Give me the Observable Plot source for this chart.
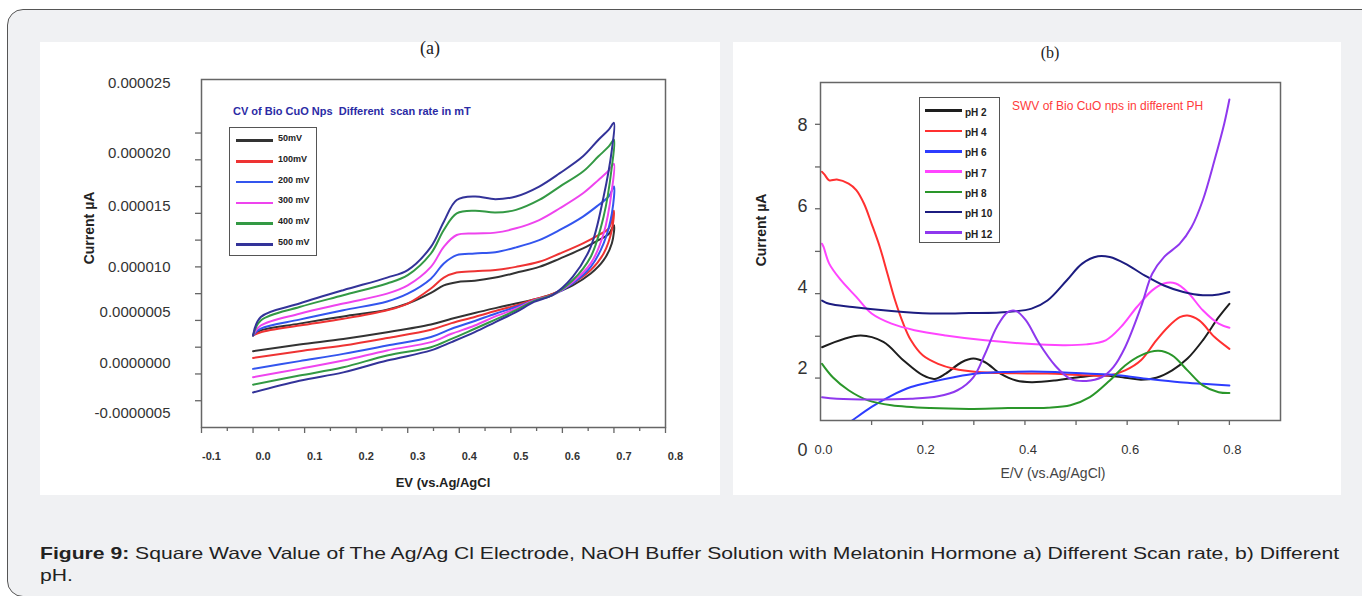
<!DOCTYPE html>
<html><head><meta charset="utf-8">
<script src="https://cdn.jsdelivr.net/npm/d3@7"></script>
<script src="https://cdn.jsdelivr.net/npm/@observablehq/plot@0.6"></script>
<style>
html,body{margin:0;padding:0}
body{width:1362px;height:596px;overflow:hidden;background:#fff;position:relative;font-family:"Liberation Sans",Arial,sans-serif}
#outer{position:absolute;left:7px;top:9px;width:1400px;height:588px;box-sizing:border-box;border:1.5px solid #555;border-radius:16px;background:#f0f1f3}
.panel{position:absolute;background:#fff}
#pa{left:40px;top:42px;width:680px;height:453px}
#pb{left:733px;top:42px;width:608px;height:453px}
.panel svg{display:block}
.t{position:absolute;white-space:pre;line-height:1}
.c{transform:translate(-50%,-50%)}
.rot{transform:translate(-50%,-50%) rotate(-90deg)}
.lbox{position:absolute;box-sizing:border-box;border:1.5px solid #555;background:#fff}
.lline{position:absolute;height:2.5px}
#cap{position:absolute;left:40px;top:542px;font-size:16.5px;line-height:22px;color:#222;white-space:nowrap;transform-origin:0 0;transform:scaleX(1.28)}
</style></head>
<body>
<div id="outer"></div>
<div id="pa" class="panel"></div>
<div id="pb" class="panel"></div>
<div id="overlay"></div>
<div id="cap"><b>Figure 9:</b> Square Wave Value of The Ag/Ag Cl Electrode, NaOH Buffer Solution with Melatonin Hormone a) Different Scan rate, b) Different<br>pH.</div>
<script>
// ---------- Panel (a): cyclic voltammograms at different scan rates ----------
const ratesA = ["50mV", "100mV", "200 mV", "300 mV", "400 mV", "500 mV"];
const xUpA = [0, 0.015, 0.09, 0.175, 0.26, 0.30, 0.345, 0.37, 0.395, 0.43, 0.47, 0.51, 0.555, 0.595, 0.64, 0.67, 0.69, 0.70];
const up50  = [3.44, 3.63, 3.88, 4.15, 4.40, 4.63, 5.03, 5.31, 5.43, 5.48, 5.60, 5.78, 6.00, 6.31, 6.69, 7.00, 7.23, 7.56];
const up100 = [3.44, 3.56, 3.81, 4.06, 4.38, 4.63, 5.19, 5.60, 5.79, 5.84, 5.88, 6.00, 6.19, 6.50, 6.88, 7.19, 7.44, 8.10];
const up200 = [3.44, 3.69, 4.03, 4.38, 4.71, 5.00, 5.56, 6.13, 6.44, 6.50, 6.55, 6.73, 7.00, 7.38, 7.88, 8.31, 8.63, 9.00];
const up300 = [3.44, 3.81, 4.25, 4.63, 5.00, 5.31, 6.00, 6.75, 7.19, 7.25, 7.28, 7.44, 7.75, 8.19, 8.75, 9.25, 9.60, 9.85];
const up400 = [3.44, 4.00, 4.50, 4.94, 5.38, 5.69, 6.50, 7.38, 8.00, 8.10, 8.03, 8.13, 8.50, 9.00, 9.56, 10.13, 10.50, 10.75];
const up500 = [3.44, 4.13, 4.63, 5.13, 5.60, 5.88, 6.75, 7.69, 8.50, 8.63, 8.53, 8.63, 9.00, 9.50, 10.13, 10.75, 11.13, 11.38];
const xDownA = [0.696, 0.68, 0.655, 0.62, 0.58, 0.545, 0.51, 0.47, 0.43, 0.385, 0.345, 0.26, 0.175, 0.09, 0.0];
const down50  = [6.88, 6.25, 5.75, 5.31, 4.98, 4.78, 4.63, 4.46, 4.28, 4.06, 3.85, 3.56, 3.31, 3.10, 2.85];
const down100 = [7.38, 6.50, 5.88, 5.38, 4.98, 4.78, 4.56, 4.35, 4.13, 3.90, 3.65, 3.34, 3.06, 2.85, 2.60];
const down200 = [8.00, 6.88, 6.00, 5.38, 4.94, 4.75, 4.50, 4.25, 3.98, 3.69, 3.38, 3.06, 2.75, 2.48, 2.19];
const down300 = [8.88, 7.25, 6.13, 5.44, 4.94, 4.75, 4.44, 4.15, 3.81, 3.50, 3.19, 2.88, 2.50, 2.19, 1.88];
const down400 = [9.75, 7.88, 6.38, 5.50, 4.94, 4.73, 4.38, 4.03, 3.69, 3.31, 3.00, 2.69, 2.25, 1.94, 1.60];
const down500 = [10.38, 8.63, 6.75, 5.63, 4.94, 4.69, 4.31, 3.94, 3.56, 3.19, 2.88, 2.50, 2.06, 1.75, 1.31];
const yTickValuesA = [12.86, 10.26, 8.28, 5.99, 4.31, 2.41, 0.52];
const yTickLabelsA = ["0.000025", "0.000020", "0.000015", "0.000010", "0.0000005", "0.0000000", "-0.0000005"];
const yTickMarksA = [1, 2, 3, 4, 5, 6, 7, 8, 9, 10, 11];
const xTickValuesA = [-0.1, 0, 0.1, 0.2, 0.3, 0.4, 0.5, 0.6, 0.7, 0.8];
const xTickLabelsA = ["-0.1", "0.0", "0.1", "0.2", "0.3", "0.4", "0.5", "0.6", "0.7", "0.8"];
const xMinorA = [-0.05, 0.05, 0.15, 0.25, 0.35, 0.45, 0.55, 0.65, 0.75];
const colorsA = ["#333333", "#ee3333", "#3355ee", "#ee44ee", "#339944", "#333399"];

// ---------- Panel (b): SWV at different pH ----------
const phNames = ["pH 2", "pH 4", "pH 6", "pH 7", "pH 8", "pH 10", "pH 12"];
const ph2X = [0.003, 0.078, 0.123, 0.162, 0.2, 0.223, 0.245, 0.276, 0.299, 0.322, 0.352, 0.383, 0.413, 0.459, 0.505, 0.55, 0.596, 0.627, 0.657, 0.688, 0.718, 0.748, 0.779, 0.8];
const ph2Y = [2.53, 2.82, 2.66, 2.21, 1.84, 1.75, 1.88, 2.16, 2.25, 2.16, 1.88, 1.71, 1.67, 1.71, 1.79, 1.84, 1.78, 1.73, 1.78, 1.96, 2.25, 2.70, 3.27, 3.60];
const ph4X = [0.003, 0.008, 0.017, 0.032, 0.055, 0.07, 0.085, 0.1, 0.116, 0.131, 0.146, 0.162, 0.177, 0.2, 0.23, 0.261, 0.306, 0.367, 0.444, 0.52, 0.566, 0.596, 0.627, 0.657, 0.68, 0.703, 0.718, 0.741, 0.771, 0.8];
const ph4Y = [6.85, 6.78, 6.64, 6.66, 6.56, 6.40, 6.07, 5.57, 5.00, 4.34, 3.68, 3.11, 2.70, 2.33, 2.12, 2.00, 1.92, 1.89, 1.88, 1.84, 1.84, 1.96, 2.21, 2.70, 3.03, 3.27, 3.31, 3.19, 2.78, 2.49];
const ph6X = [0.05, 0.0625, 0.1, 0.139, 0.177, 0.215, 0.261, 0.306, 0.367, 0.413, 0.459, 0.52, 0.581, 0.642, 0.703, 0.748, 0.8];
const ph6Y = [0.62, 0.73, 1.06, 1.34, 1.55, 1.67, 1.79, 1.88, 1.92, 1.93, 1.92, 1.88, 1.84, 1.75, 1.67, 1.63, 1.59];
const ph7X = [0.003, 0.006, 0.017, 0.04, 0.07, 0.1, 0.139, 0.184, 0.245, 0.322, 0.398, 0.474, 0.52, 0.558, 0.588, 0.619, 0.649, 0.672, 0.695, 0.718, 0.748, 0.779, 0.8];
const ph7Y = [5.08, 5.00, 4.59, 4.18, 3.77, 3.36, 3.11, 2.95, 2.82, 2.70, 2.62, 2.58, 2.60, 2.70, 3.03, 3.52, 3.93, 4.10, 4.10, 3.89, 3.44, 3.11, 3.01];
const ph8X = [0.003, 0.024, 0.055, 0.093, 0.139, 0.215, 0.291, 0.367, 0.444, 0.489, 0.527, 0.566, 0.596, 0.627, 0.661, 0.688, 0.718, 0.748, 0.779, 0.8];
const ph8Y = [2.12, 1.79, 1.47, 1.22, 1.10, 1.03, 1.01, 1.03, 1.04, 1.10, 1.30, 1.71, 2.08, 2.33, 2.44, 2.33, 1.96, 1.59, 1.42, 1.40];
const ph10X = [0.003, 0.017, 0.0625, 0.139, 0.215, 0.291, 0.367, 0.413, 0.444, 0.482, 0.512, 0.543, 0.566, 0.596, 0.634, 0.672, 0.71, 0.748, 0.779, 0.8];
const ph10Y = [3.68, 3.60, 3.52, 3.42, 3.36, 3.37, 3.40, 3.48, 3.68, 4.18, 4.59, 4.77, 4.75, 4.59, 4.30, 4.05, 3.89, 3.81, 3.83, 3.89];
const ph12X = [0.003, 0.032, 0.1, 0.177, 0.23, 0.268, 0.299, 0.322, 0.345, 0.367, 0.383, 0.402, 0.428, 0.459, 0.489, 0.52, 0.55, 0.573, 0.596, 0.627, 0.649, 0.672, 0.703, 0.726, 0.748, 0.771, 0.79, 0.8];
const ph12Y = [1.30, 1.26, 1.24, 1.26, 1.32, 1.47, 1.79, 2.37, 3.03, 3.40, 3.42, 3.19, 2.62, 2.08, 1.75, 1.70, 1.79, 2.04, 2.53, 3.52, 4.34, 4.75, 5.08, 5.49, 6.15, 7.14, 8.04, 8.63];
const yTickValuesB = [0, 2, 4, 6, 8];
const yTickMarksB = [1.77, 2.80, 3.85, 4.89, 5.94, 6.97, 8.02];
const xTickValuesB = [0, 0.2, 0.4, 0.6, 0.8];
const xTickLabelsB = ["0.0", "0.2", "0.4", "0.6", "0.8"];
const xTickMarksB = [0.1, 0.2, 0.3, 0.4, 0.5, 0.6, 0.7, 0.8];
const colorsB = ["#1e1e1e", "#ff3030", "#2d3cff", "#ff45ff", "#2a962a", "#1c1c80", "#8f38ee"];

const FONT = '"Liberation Sans", Arial, sans-serif';

// build tables
const upA = [up50, up100, up200, up300, up400, up500];
const downA = [down50, down100, down200, down300, down400, down500];
const cvData = ratesA.flatMap((r, k) => [
  ...xUpA.map((x, i) => ({rate: r, x, y: upA[k][i]})),
  ...xDownA.map((x, i) => ({rate: r, x, y: downA[k][i]}))
]);
const xsB = [ph2X, ph4X, ph6X, ph7X, ph8X, ph10X, ph12X];
const ysB = [ph2Y, ph4Y, ph6Y, ph7Y, ph8Y, ph10Y, ph12Y];
const swvData = phNames.flatMap((p, k) => xsB[k].map((x, i) => ({ph: p, x, y: ysB[k][i]})));

const plotA = Plot.plot({
  width: 680, height: 453,
  marginLeft: 161, marginRight: 55, marginTop: 37, marginBottom: 68,
  style: {background: "transparent", fontFamily: FONT, color: "#333"},
  x: {domain: [-0.1, 0.8]},
  y: {domain: [0, 13]},
  color: {domain: ratesA, range: colorsA},
  marks: [
    Plot.axisY({ticks: yTickMarksA, tickSize: 6, tickFormat: () => "", stroke: "#666", strokeWidth: 1.3, label: null}),
    Plot.axisY({ticks: yTickValuesA, tickSize: 0, tickPadding: 31, tickFormat: (d, i) => yTickLabelsA[i], fontSize: 15, fill: "#333", label: null}),
    Plot.axisX({ticks: xMinorA, tickSize: 4, tickFormat: () => "", stroke: "#666", strokeWidth: 1.3, label: null}),
    Plot.axisX({ticks: xTickValuesA, tickSize: 6, tickFormat: () => "", stroke: "#666", strokeWidth: 1.3, label: null}),
    Plot.axisX({ticks: xTickValuesA, tickSize: 0, tickPadding: 25, dx: 10, tickFormat: (d, i) => xTickLabelsA[i], fontSize: 11, fontWeight: "bold", fill: "#333", label: null}),
    Plot.line(cvData, {x: "x", y: "y", z: "rate", stroke: "rate", strokeWidth: 2, curve: "catmull-rom"}),
    Plot.frame({stroke: "#666", strokeWidth: 1.5})
  ]
});
document.getElementById("pa").appendChild(plotA);

const plotB = Plot.plot({
  width: 608, height: 453,
  marginLeft: 87, marginRight: 61, marginTop: 40, marginBottom: 75,
  style: {background: "transparent", fontFamily: FONT, color: "#333"},
  x: {domain: [0, 0.9]},
  y: {domain: [0.725, 9.05]},
  color: {domain: phNames, range: colorsB},
  marks: [
    Plot.axisY({ticks: yTickMarksB, tickSize: 5, tickFormat: () => "", stroke: "#666", strokeWidth: 1.3, label: null}),
    Plot.axisY({ticks: yTickValuesB, tickSize: 0, tickPadding: 13, tickFormat: d => String(d), fontSize: 18, fill: "#333", label: null}),
    Plot.axisX({ticks: xTickMarksB, tickSize: 5, tickFormat: () => "", stroke: "#666", strokeWidth: 1.3, label: null}),
    Plot.axisX({ticks: xTickValuesB, tickSize: 0, tickPadding: 24, dx: 3, tickFormat: (d, i) => xTickLabelsB[i], fontSize: 13, fill: "#333", label: null}),
    Plot.line(swvData, {x: "x", y: "y", z: "ph", stroke: "ph", strokeWidth: 2, curve: "catmull-rom", clip: true}),
    Plot.frame({stroke: "#666", strokeWidth: 1.5})
  ]
});
document.getElementById("pb").appendChild(plotB);

// ---------- overlays: titles, axis titles, legends ----------
const ov = document.getElementById("overlay");
function txt(s, css, cls) {
  const d = document.createElement("div");
  d.className = "t " + (cls || "");
  d.textContent = s;
  d.style.cssText = css;
  ov.appendChild(d);
  return d;
}
txt("(a)", "left:430px;top:48px;font-family:'Liberation Serif',serif;font-size:18px;color:#222", "c");
txt("(b)", "left:1050px;top:53px;font-family:'Liberation Serif',serif;font-size:16px;color:#222", "c");
txt("Current µA", "left:89px;top:228px;font-size:14px;font-weight:bold;color:#222", "rot");
txt("Current µA", "left:761px;top:230px;font-size:14px;font-weight:bold;color:#222", "rot");
txt("EV (vs.Ag/AgCl", "left:443px;top:482px;font-size:13px;font-weight:bold;color:#222", "c");
txt("E/V (vs.Ag/AgCl)", "left:1053px;top:473px;font-size:14px;color:#444", "c");
txt("CV of Bio CuO Nps  Different  scan rate in mT", "left:233px;top:106px;font-size:11px;font-weight:bold;color:#2b2ba5");
txt("SWV of Bio CuO nps in different PH", "left:1012px;top:100px;font-size:12px;color:#ff3b3b");

function legend(names, colors, box, lineX0, lineW, textX, rowY0, rowStep, fontSize, textDy) {
  const b = document.createElement("div");
  b.className = "lbox";
  b.style.cssText = `left:${box[0]}px;top:${box[1]}px;width:${box[2]}px;height:${box[3]}px`;
  ov.appendChild(b);
  names.forEach((n, i) => {
    const y = rowY0 + i * rowStep;
    const l = document.createElement("div");
    l.className = "lline";
    l.style.cssText = `left:${lineX0}px;top:${y - 1.25}px;width:${lineW}px;background:${colors[i]}`;
    ov.appendChild(l);
    txt(n, `left:${textX}px;top:${y + textDy - fontSize / 2}px;font-size:${fontSize}px;font-weight:bold;color:#222`);
  });
}
legend(ratesA, colorsA, [229, 127, 88, 129], 236, 37, 278, 140.5, 20.8, 9, -2);
legend(phNames, colorsB, [919, 97, 81, 146], 925, 37, 965, 110.7, 20.3, 10, 2);
</script>
</body></html>
